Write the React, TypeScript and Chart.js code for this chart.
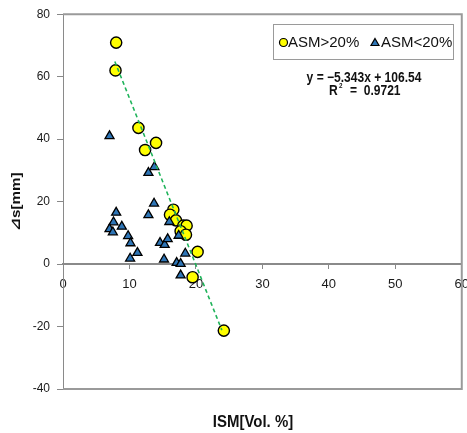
import React, { useEffect, useRef } from "react";
import { Chart, registerables } from "chart.js";

Chart.register(...registerables);

// ASM > 20% samples: ISM [Vol. %] vs settlement difference [mm]
const asmHighX = [8.0, 7.9, 11.35, 14.0, 12.35, 16.6, 16.1, 17.0, 18.1, 18.6, 17.7, 18.5, 20.25, 19.5, 24.2];
const asmHighY = [70.9, 62.0, 43.6, 38.8, 36.5, 17.4, 15.8, 14.0, 12.3, 12.3, 10.5, 9.4, 3.9, -4.2, -21.3];

// ASM < 20% samples
const asmLowX = [7.0, 13.75, 12.85, 13.7, 12.85, 8.0, 7.6, 8.85, 7.0, 7.5, 9.8, 10.15, 11.2, 10.1, 14.6, 15.3, 15.75, 15.2, 16.0, 17.4, 17.1, 17.7, 17.7, 18.4];
const asmLowY = [41.0, 31.1, 29.2, 19.4, 15.7, 16.5, 13.4, 12.0, 11.2, 10.2, 9.0, 6.7, 3.6, 1.8, 6.8, 6.2, 8.0, 1.5, 13.5, 9.1, 0.4, 0.1, -3.6, 3.4];

// Linear fit of the ASM > 20% group
const fitSlope = -5.343;
const fitIntercept = 106.54;
const fitR2 = 0.9721;
const fitRangeX = [7.8, 23.9];

const xTicks = [0, 10, 20, 30, 40, 50, 60];
const yTicks = [-40, -20, 0, 20, 40, 60, 80];

const seriesLabels = ["ASM>20%", "ASM<20%"];
const xTitle = "ISM[Vol. %]";
const yTitle = "\u22BFs[mm]";

const NARROW = "'Liberation Sans Narrow', 'Arial Narrow', 'Liberation Sans', Arial, 'DejaVu Sans', sans-serif";
const SANS = "'Liberation Sans', Arial, 'DejaVu Sans', sans-serif";
const YELLOW = "#ffff00";
const BLUE = "#2e75b6";
const GREEN = "#1fb35a";
const FRAME = "#9a9a9a";

const toPoints = (xs: number[], ys: number[]) => xs.map((x, i) => ({ x, y: ys[i] }));

// draws text squeezed horizontally, like a condensed face
function narrowText(ctx: CanvasRenderingContext2D, text: string, x: number, y: number, sx: number, align: CanvasTextAlign) {
  ctx.save();
  ctx.translate(x, y);
  ctx.scale(sx, 1);
  ctx.textAlign = align;
  ctx.fillText(text, 0, 0);
  ctx.restore();
}

const overlayPlugin = {
  id: "overlay",
  beforeDatasetsDraw(chart: any) {
    const { ctx, chartArea: a } = chart;
    ctx.save();
    ctx.strokeStyle = FRAME;
    ctx.lineWidth = 2;
    ctx.beginPath();
    ctx.moveTo(a.left, a.top);
    ctx.lineTo(a.right, a.top);
    ctx.lineTo(a.right, a.bottom);
    ctx.lineTo(a.left, a.bottom);
    ctx.stroke();
    ctx.restore();
  },
  afterDraw(chart: any) {
    const { ctx, chartArea: a } = chart;
    ctx.save();
    ctx.fillStyle = "#111";
    ctx.textBaseline = "middle";

    // axis titles
    ctx.font = `bold 17px ${NARROW}`;
    narrowText(ctx, xTitle, 253, 422, 0.88, "center");
    ctx.save();
    ctx.translate(16, (a.top + a.bottom) / 2);
    ctx.rotate(-Math.PI / 2);
    ctx.scale(0.95, 0.82);
    ctx.font = `bold 16px ${NARROW}`;
    ctx.textAlign = "center";
    ctx.fillText(yTitle, 0, 0);
    ctx.restore();

    // legend box
    const bx = 273, by = 24, bw = 180, bh = 35;
    ctx.fillStyle = "#fff";
    ctx.fillRect(bx, by, bw, bh);
    ctx.strokeStyle = FRAME;
    ctx.lineWidth = 1;
    ctx.strokeRect(bx + 0.5, by + 0.5, bw, bh);
    const cy = by + 18.5;
    ctx.beginPath();
    ctx.arc(283.5, cy, 4, 0, Math.PI * 2);
    ctx.fillStyle = YELLOW;
    ctx.fill();
    ctx.lineWidth = 1.2;
    ctx.strokeStyle = "#000";
    ctx.stroke();
    ctx.beginPath();
    ctx.moveTo(375, cy - 4);
    ctx.lineTo(379, cy + 3);
    ctx.lineTo(371, cy + 3);
    ctx.closePath();
    ctx.fillStyle = BLUE;
    ctx.fill();
    ctx.stroke();
    ctx.fillStyle = "#111";
    ctx.font = `15px ${SANS}`;
    ctx.textAlign = "left";
    ctx.fillText(seriesLabels[0], 288, cy);
    ctx.fillText(seriesLabels[1], 381, cy);

    // fit equation
    ctx.font = `bold 14px ${NARROW}`;
    const eq = `y = \u2212${Math.abs(fitSlope).toFixed(3)}x + ${fitIntercept.toFixed(2)}`;
    narrowText(ctx, eq, 364, 78, 0.86, "center");
    narrowText(ctx, "R", 329, 91, 0.86, "left");
    ctx.font = `bold 7px ${NARROW}`;
    narrowText(ctx, "2", 339, 86, 0.9, "left");
    ctx.font = `bold 14px ${NARROW}`;
    narrowText(ctx, `=  ${fitR2.toFixed(4)}`, 350, 91, 0.86, "left");
    ctx.restore();
  },
};

export default function App() {
  const ref = useRef<HTMLCanvasElement | null>(null);

  useEffect(() => {
    if (!ref.current) return;
    const chart = new Chart(ref.current, {
      type: "scatter",
      data: {
        datasets: [
          {
            type: "line",
            label: "fit",
            data: fitRangeX.map((x) => ({ x, y: fitSlope * x + fitIntercept })),
            borderColor: GREEN,
            borderWidth: 1.6,
            borderDash: [4, 3],
            pointRadius: 0,
            fill: false,
          },
          {
            label: seriesLabels[1],
            data: toPoints(asmLowX, asmLowY),
            pointStyle: "triangle",
            pointRadius: 5.2,
            backgroundColor: BLUE,
            borderColor: "#000",
            borderWidth: 1.3,
          },
          {
            label: seriesLabels[0],
            data: toPoints(asmHighX, asmHighY),
            pointStyle: "circle",
            pointRadius: 5.6,
            backgroundColor: YELLOW,
            borderColor: "#000",
            borderWidth: 1.4,
          },
        ],
      },
      options: {
        responsive: false,
        animation: false,
        layout: { padding: { top: 14, bottom: 44, left: 0, right: 10 } },
        plugins: { legend: { display: false }, tooltip: { enabled: false } },
        scales: {
          x: {
            type: "linear",
            position: { y: 0 } as any,
            min: xTicks[0],
            max: xTicks[xTicks.length - 1],
            afterBuildTicks: (s: any) => {
              s.ticks = xTicks.map((v) => ({ value: v }));
            },
            ticks: {
              color: "#1a1a1a",
              font: { family: SANS, size: 13 },
              padding: 9,
              maxRotation: 0,
            },
            grid: { drawOnChartArea: false, tickLength: 4, tickColor: "#888", color: "#888" },
            border: { color: "#8a8a8a", width: 2 },
          },
          y: {
            type: "linear",
            min: yTicks[0],
            max: yTicks[yTicks.length - 1],
            afterBuildTicks: (s: any) => {
              s.ticks = yTicks.map((v) => ({ value: v }));
            },
            afterFit: (s: any) => {
              s.width = 63;
            },
            ticks: {
              color: "#1a1a1a",
              font: { family: SANS, size: 12 },
              padding: 7,
            },
            grid: { drawOnChartArea: false, tickLength: 6, tickColor: "#888", color: "#888" },
            border: { color: "#8a8a8a", width: 1 },
          },
        },
      },
      plugins: [overlayPlugin],
    });
    return () => chart.destroy();
  }, []);

  return (
    <div
      style={{
        position: "fixed",
        left: 0,
        top: 0,
        width: 467,
        height: 433,
        overflow: "hidden",
        background: "#fff",
      }}
    >
      <canvas ref={ref} width={478} height={433} style={{ width: 478, height: 433, display: "block" }} />
    </div>
  );
}
